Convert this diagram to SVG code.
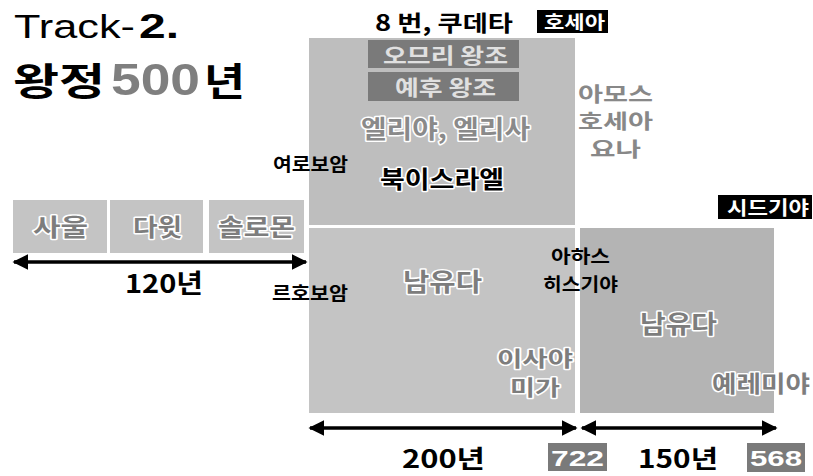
<svg xmlns="http://www.w3.org/2000/svg" width="813" height="476" viewBox="0 0 813 476">
<style>
.k{font-family:"Noto Sans CJK KR","Noto Sans",sans-serif;font-weight:bold}
.halo{paint-order:stroke;stroke:#fff;stroke-width:3;stroke-linejoin:round}
.g{fill:#7d7d7d}
.num{font-family:"Liberation Sans",Arial,sans-serif;font-weight:bold}
.conn{stroke:#000;stroke-width:3.5;fill:none;marker-start:url(#ah);marker-end:url(#ah)}
</style>
<defs>
<marker id="ah" viewBox="0 0 10 10" refX="9" refY="5" markerWidth="4.5" markerHeight="4.5" orient="auto-start-reverse" markerUnits="strokeWidth">
<path d="M0,0 L10,5 L0,10 z" fill="#000"/>
</marker>
</defs>
<rect width="813" height="476" fill="#fff"/>
<g id="title">
<text x="14" y="38" font-family="'Liberation Sans',Arial,sans-serif" font-size="34" fill="#000" textLength="121" lengthAdjust="spacingAndGlyphs">Track-</text>
<text x="139" y="38" font-family="'Liberation Sans',Arial,sans-serif" font-weight="bold" font-size="35" fill="#000" textLength="40" lengthAdjust="spacingAndGlyphs">2.</text>
<text x="13" y="95" class="k" font-size="38" fill="#000" textLength="92" lengthAdjust="spacingAndGlyphs">왕정</text>
<text x="111" y="95" font-family="'Liberation Sans',Arial,sans-serif" font-weight="bold" font-size="44" fill="#7f7f7f" textLength="89" lengthAdjust="spacingAndGlyphs">500</text>
<text x="204" y="95" class="k" font-size="38" fill="#000" textLength="41" lengthAdjust="spacingAndGlyphs">년</text>
</g>
<g id="saul"><rect x="13" y="200" width="94" height="53" fill="#c4c4c4"/><text x="33" y="236" class="k halo g" font-size="24" textLength="55" lengthAdjust="spacingAndGlyphs">사울</text></g>
<g id="david"><rect x="110" y="200" width="93" height="53" fill="#c4c4c4"/><text x="133" y="236" class="k halo g" font-size="24" textLength="49" lengthAdjust="spacingAndGlyphs">다윗</text></g>
<g id="solomon"><rect x="209" y="200" width="95" height="53" fill="#c4c4c4"/><text x="218" y="236" class="k halo g" font-size="24" textLength="77" lengthAdjust="spacingAndGlyphs">솔로몬</text></g>
<g id="north">
<rect x="309" y="38" width="266" height="187" fill="#bebebe"/>
<rect x="368" y="40" width="151" height="28" fill="#7a7a7a"/>
<text x="383" y="63" class="k" font-size="21" fill="#e0e0e0" textLength="125" lengthAdjust="spacingAndGlyphs">오므리 왕조</text>
<rect x="368" y="72" width="151" height="29" fill="#7a7a7a"/>
<text x="395" y="95" class="k" font-size="21" fill="#e0e0e0" textLength="101" lengthAdjust="spacingAndGlyphs">예후 왕조</text>
<text x="361" y="138" class="k halo" font-size="25" fill="#8a8a8a" textLength="169" lengthAdjust="spacingAndGlyphs">엘리야, 엘리사</text>
<text x="380" y="188" class="k halo" font-size="24" fill="#000" textLength="124" lengthAdjust="spacingAndGlyphs">북이스라엘</text>
</g>
<g id="coup"><text x="375" y="31" class="k" font-size="22" fill="#000" textLength="138" lengthAdjust="spacingAndGlyphs">8 번, 쿠데타</text></g>
<g id="hosea-king"><rect x="537" y="10" width="71" height="23" fill="#000"/><text x="544" y="29" class="k" font-size="18" fill="#fff" textLength="61" lengthAdjust="spacingAndGlyphs">호세아</text></g>
<g id="prophets-north">
<text x="578" y="102" class="k" font-size="20" fill="#888" textLength="75" lengthAdjust="spacingAndGlyphs">아모스</text>
<text x="578" y="129" class="k" font-size="20" fill="#888" textLength="75" lengthAdjust="spacingAndGlyphs">호세아</text>
<text x="590" y="157" class="k" font-size="20" fill="#888" textLength="51" lengthAdjust="spacingAndGlyphs">요나</text>
</g>
<g id="jeroboam"><text x="273" y="171" class="k" font-size="18" fill="#000" textLength="75" lengthAdjust="spacingAndGlyphs">여로보암</text></g>
<g id="south1">
<rect x="309" y="228" width="266" height="185" fill="#c4c4c4"/>
<text x="403" y="291" class="k halo" font-size="25" fill="#7d7d7d" textLength="79" lengthAdjust="spacingAndGlyphs">남유다</text>
<text x="497" y="366" class="k halo" font-size="21" fill="#7d7d7d" textLength="76" lengthAdjust="spacingAndGlyphs">이사야</text>
<text x="510" y="395" class="k halo" font-size="21" fill="#7d7d7d" textLength="50" lengthAdjust="spacingAndGlyphs">미가</text>
</g>
<g id="south2">
<rect x="580" y="228" width="194" height="185" fill="#b4b4b4"/>
<text x="640" y="333" class="k halo" font-size="25" fill="#7d7d7d" textLength="77" lengthAdjust="spacingAndGlyphs">남유다</text>
<text x="712" y="392" class="k halo" font-size="23" fill="#7d7d7d" textLength="98" lengthAdjust="spacingAndGlyphs">예레미야</text>
</g>
<g id="rehoboam"><text x="272" y="300" class="k" font-size="18" fill="#000" textLength="76" lengthAdjust="spacingAndGlyphs">르호보암</text></g>
<g id="ahaz"><text x="551" y="263" class="k" font-size="18" fill="#000" textLength="59" lengthAdjust="spacingAndGlyphs">아하스</text></g>
<g id="hezekiah"><text x="543" y="291" class="k" font-size="18" fill="#000" textLength="75" lengthAdjust="spacingAndGlyphs">히스기야</text></g>
<g id="zedekiah"><rect x="718" y="195" width="94" height="24" fill="#000"/><text x="727" y="215" class="k" font-size="19" fill="#fff" textLength="82" lengthAdjust="spacingAndGlyphs">시드기야</text></g>
<g id="connectors">
<line x1="14" y1="262" x2="306" y2="262" class="conn"/>
<line x1="310" y1="428" x2="576" y2="428" class="conn"/>
<line x1="582" y1="428" x2="776" y2="428" class="conn"/>
</g>
<g id="label-120"><text x="125" y="293" class="k" font-size="26" fill="#000" textLength="78" lengthAdjust="spacingAndGlyphs">120년</text></g>
<g id="label-200"><text x="402" y="468" class="k" font-size="25" fill="#000" textLength="83" lengthAdjust="spacingAndGlyphs">200년</text></g>
<g id="label-150"><text x="638" y="468" class="k" font-size="25" fill="#000" textLength="80" lengthAdjust="spacingAndGlyphs">150년</text></g>
<g id="year-722"><rect x="548" y="443" width="59" height="28" fill="#7a7a7a"/><text x="551" y="466" class="num" font-size="22" fill="#fff" textLength="53" lengthAdjust="spacingAndGlyphs">722</text></g>
<g id="year-568"><rect x="747" y="443" width="58" height="29" fill="#7a7a7a"/><text x="750" y="466" class="num" font-size="22" fill="#fff" textLength="52" lengthAdjust="spacingAndGlyphs">568</text></g>
</svg>
